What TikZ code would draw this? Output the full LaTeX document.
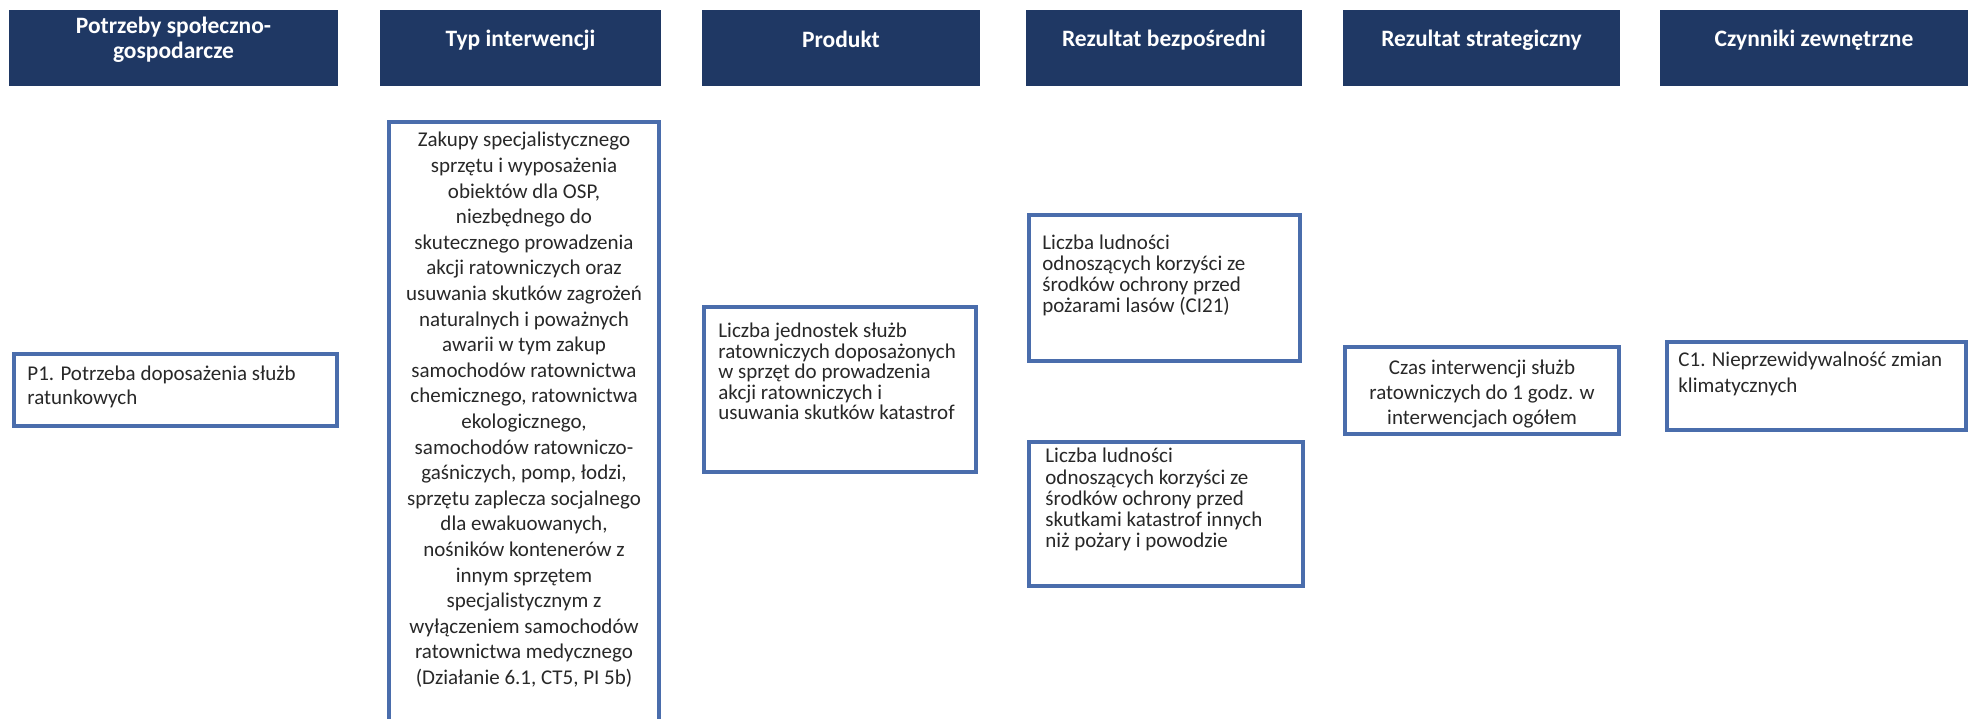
\documentclass[tikz,border=0pt]{standalone}
\usepackage{fontspec}
\setmainfont{Carlito}
\usetikzlibrary{fit}
\definecolor{hdrblue}{RGB}{31,56,100}
\definecolor{boxblue}{RGB}{74,109,172}
\definecolor{txtgray}{RGB}{40,40,40}
\begin{document}
\begin{tikzpicture}[x=0.5pt,y=-0.5pt,
  hdr/.style={fill=hdrblue, inner sep=0pt, text=white, align=center,
    font=\bfseries\fontsize{11.75}{12.5}\selectfont},
  box/.style={draw=boxblue, line width=2pt, fill=white, inner sep=0pt},
  ltext/.style={anchor=north west, inner sep=0pt, text=txtgray, align=left,
    font=\fontsize{10.5}{#1}\selectfont},
  ctext/.style={anchor=north, inner sep=0pt, text=txtgray, align=center,
    font=\fontsize{10.5}{#1}\selectfont}]
\useasboundingbox (0,0) rectangle (1968,718);
\clip (0,0) rectangle (1968,718);

% headers
\node[hdr, fit={(9,10) (338,86)}] (h1) {Potrzeby społeczno-\\gospodarcze};
\node[hdr, fit={(380,10) (661,86)}] (h2) {Typ interwencji};
\node[hdr, fit={(702,10) (980,86)}] (h3) {Produkt};
\node[hdr, fit={(1026,10) (1302,86)}] (h4) {Rezultat bezpośredni};
\node[hdr, fit={(1343,10) (1620,86)}] (h5) {Rezultat strategiczny};
\node[hdr, fit={(1660,10) (1968,86)}] (h6) {Czynniki zewnętrzne};

% content boxes
\node[box, fit={(14,354) (337,426)}] (p1) {};
\node[box, fit={(389,122) (659,760)}] (typ) {};
\node[box, fit={(704,307) (976,472)}] (prod) {};
\node[box, fit={(1029,215) (1300,361)}] (r1) {};
\node[box, fit={(1029,442) (1303,586)}] (r2) {};
\node[box, fit={(1345,347) (1619,434)}] (str) {};
\node[box, fit={(1667,342) (1966,430)}] (c1) {};

% texts
\node[ltext=11.65pt] (p1t) at (27,366) {P1. Potrzeba doposażenia służb\\ratunkowych};
\node[ctext=12.8pt] (typt) at (524,132) {Zakupy specjalistycznego\\
sprzętu i wyposażenia\\
obiektów dla OSP,\\
niezbędnego do\\
skutecznego prowadzenia\\
akcji ratowniczych oraz\\
usuwania skutków zagrożeń\\
naturalnych i poważnych\\
awarii w tym zakup\\
samochodów ratownictwa\\
chemicznego, ratownictwa\\
ekologicznego,\\
samochodów ratowniczo-\\
gaśniczych, pomp, łodzi,\\
sprzętu zaplecza socjalnego\\
dla ewakuowanych,\\
nośników kontenerów z\\
innym sprzętem\\
specjalistycznym z\\
wyłączeniem samochodów\\
ratownictwa medycznego\\
(Działanie 6.1, CT5, PI 5b)};
\node[ltext=10.2pt] (prt) at (718,323) {Liczba jednostek służb\\ratowniczych doposażonych\\w sprzęt do prowadzenia\\akcji ratowniczych i\\usuwania skutków katastrof};
\node[ltext=10.5pt] (r1t) at (1042,235) {Liczba ludności\\odnoszących korzyści ze\\środków ochrony przed\\pożarami lasów (CI21)};
\node[ltext=10.6pt] (r2t) at (1045,448) {Liczba ludności\\odnoszących korzyści ze\\środków ochrony przed\\skutkami katastrof innych\\niż pożary i powodzie};
\node[ctext=12.5pt] (strt) at (1482,360) {Czas interwencji służb\\ratowniczych do 1 godz. w\\interwencjach ogółem};
\node[ltext=13pt] (c1t) at (1678,352) {C1. Nieprzewidywalność zmian\\klimatycznych};
\end{tikzpicture}
\end{document}
